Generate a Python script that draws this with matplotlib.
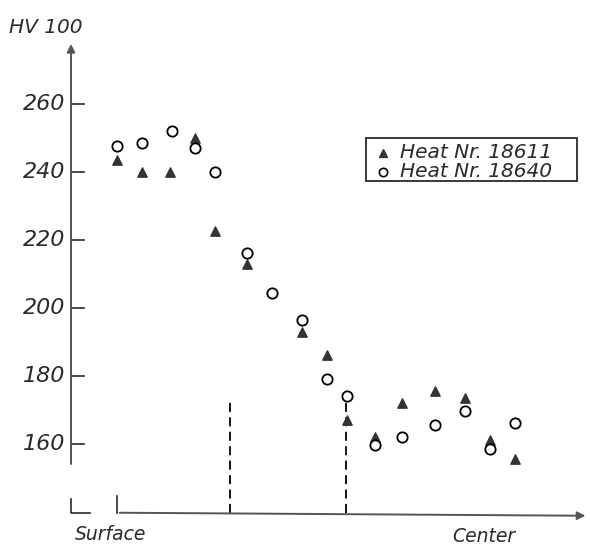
import numpy as np
import matplotlib
matplotlib.use("Agg")
import matplotlib.pyplot as plt
from matplotlib.patches import Rectangle

# distance from surface (arbitrary units) and hardness HV 100
x_18611 = [0.0, 1.0, 2.1, 3.1, 3.9, 5.2, 7.4, 8.4, 9.2, 10.3, 11.4, 12.7, 13.9, 14.9, 15.9]
hv_18611 = [243.5, 240, 240, 250, 222.5, 213, 193, 186, 167, 162, 172, 175.5, 173.5, 161, 155.5]

x_18640 = [0.0, 1.0, 2.2, 3.1, 3.9, 5.2, 6.2, 7.4, 8.4, 9.2, 10.3, 11.4, 12.7, 13.9, 14.9, 15.9]
hv_18640 = [247.5, 248.5, 252, 247, 240, 216, 204.5, 196.5, 179, 174, 159.5, 162, 165.5, 169.5, 158.5, 166]

y_ticks = [260, 240, 220, 200, 180, 160]
y_labels = ["260", "240", "220", "200", "180", "160"]
dashed_x = [4.52, 9.16]

labels = ["Heat Nr. 18611", "Heat Nr. 18640"]

ink = "#2a2a2a"
font = dict(family="DejaVu Sans", style="italic", color=ink)


def px(xp, yp):
    # pixel position in the picture -> data coordinates
    return (xp - 117) / 25.0, 260 - (yp - 104) / 3.4


fig = plt.figure(figsize=(5.9, 5.46), dpi=100)
ax = fig.add_axes([0, 0, 1, 1])
ax.set_xlim(-4.68, 18.92)
ax.set_ylim(129.9, 290.6)
ax.axis("off")

# y axis with arrow
ax.annotate("", xy=(-1.84, 278.5), xytext=(-1.84, 153.2),
            arrowprops=dict(arrowstyle="-|>", color="#555555", lw=1.4,
                            mutation_scale=12))
for v, lab in zip(y_ticks, y_labels):
    ax.plot([-1.84, -1.3], [v, v], color=ink, lw=1.2)
    ax.text(-2.05, v, lab, ha="right", va="center", fontsize=16, **font)
ax.text(*px(9, 27), "HV 100", ha="left", va="center", fontsize=14.5, **font)

# broken-axis corner and x axis
ax.plot([-1.84, -1.84, -1.08], [143.6, 139.7, 139.7], color=ink, lw=1.2)
ax.plot([0, 0], [139.7, 144.6], color=ink, lw=1.2)
ax.annotate("", xy=(18.85, 138.8), xytext=(0, 139.7),
            arrowprops=dict(arrowstyle="-|>", color="#555555", lw=1.4,
                            mutation_scale=12))
for xd in dashed_x:
    ax.plot([xd, xd], [139.7, 172.5], color="black", lw=1.3, ls=(0, (5, 3)))

ax.text(*px(75, 535), "Surface", ha="left", va="center", fontsize=13.5, **font)
ax.text(*px(452, 537), "Center", ha="left", va="center", fontsize=13.5, **font)

ax.scatter(x_18611, hv_18611, marker="^", s=45, color="#333333",
           edgecolors="#333333", zorder=3)
ax.scatter(x_18640, hv_18640, marker="o", s=55, facecolors="white",
           edgecolors="black", linewidths=1.3, zorder=4)

# legend box
x0, y0 = px(366, 181)
x1, y1 = px(577, 138)
ax.add_patch(Rectangle((x0, y0), x1 - x0, y1 - y0, fill=False,
                       edgecolor=ink, lw=1.3, zorder=5))
ax.plot(*px(383, 153), marker="^", ms=6, color="#333333", zorder=6)
ax.plot(*px(383, 172), marker="o", ms=6, mfc="white", mec="black", mew=1.2, zorder=6)
ax.text(*px(400, 153), labels[0], ha="left", va="center", fontsize=14.5, **font)
ax.text(*px(400, 172), labels[1], ha="left", va="center", fontsize=14.5, **font)

fig.savefig("out.png", dpi=100)
